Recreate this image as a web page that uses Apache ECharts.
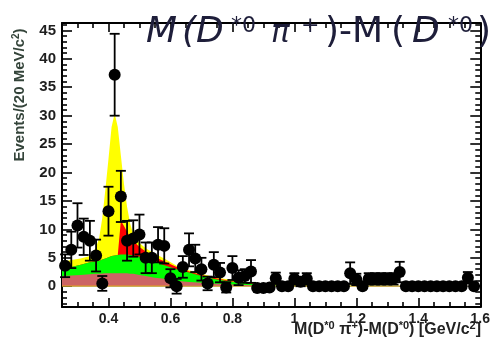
<!DOCTYPE html>
<html><head><meta charset="utf-8">
<script src="https://cdn.jsdelivr.net/npm/echarts@6/dist/echarts.min.js"></script>
<style>html,body{margin:0;padding:0;background:#fff}#c{width:493px;height:342px}</style>
</head><body><div id="c"></div>
<script>
// ---- data ----
const binCenters = [0.26,0.28,0.30,0.32,0.34,0.36,0.38,0.40,0.42,0.44,0.46,0.48,0.50,0.52,0.54,0.56,0.58,0.60,0.62,0.64,
  0.66,0.68,0.70,0.72,0.74,0.76,0.78,0.80,0.82,0.84,0.86,0.88,0.90,0.92,0.94,0.96,0.98,1.00,1.02,1.04,
  1.06,1.08,1.10,1.12,1.14,1.16,1.18,1.20,1.22,1.24,1.26,1.28,1.30,1.32,1.34,1.36,1.38,1.40,1.42,1.44,
  1.46,1.48,1.50,1.52,1.54,1.56,1.58];
const counts = [3.6,6.4,10.7,8.7,8.0,5.4,0.5,13.2,37.2,15.8,8.0,8.4,9.1,5.0,5.0,7.3,7.1,1.4,0.0,3.4,
  6.4,4.9,3.0,0.5,3.8,2.4,-0.2,3.2,1.5,1.8,2.6,-0.3,-0.3,-0.2,1.4,0,0,1.3,0.8,1.3,
  0,0,0,0,0,0,2.3,1.2,0,1.3,1.3,1.3,1.3,1.3,2.5,0,0,0,0,0,
  0,0,0,0,0,1.5,0];
const errors = [2.0,3.2,3.9,3.2,3.5,2.8,1.3,4.3,7.2,4.5,3.5,3.2,3.5,2.7,2.7,3.1,3.1,1.6,1.3,1.9,
  2.9,2.4,2.0,1.2,2.2,1.7,0.9,2.1,1.3,1.2,2.0,0,0,0,1.0,0,0,1.0,0.8,1.0,
  0,0,0,0,0,0,1.9,1.0,0,1.0,1.0,1.0,1.0,1.0,1.8,0,0,0,0,0,
  0,0,0,0,0,1.0,0];

const curveX    = [0.25,0.28,0.31,0.34,0.36,0.37,0.38,0.39,0.40,0.41,0.42,0.43,0.44,0.45,0.46,0.47,0.48,0.50,0.52,0.55,0.58,0.62,0.66,0.70,0.75,0.80,0.85,0.90,1.00,1.20,1.40,1.60];
const yellowTop = [4.3,4.6,4.9,5.3,6.8,8.5,12,17,22.4,28,30.4,28,23,18,14,11,9.2,7.6,6.7,5.7,4.9,3.6,2.8,2.2,1.5,1.1,0.7,0.4,0.2,0.1,0.08,0.05];
const redTop    = [3.0,3.4,3.8,4.2,4.4,4.5,4.7,4.9,5.1,5.3,5.4,5.5,11.5,10.6,9.6,8.7,8.0,6.9,6.1,5.1,4.4,3.4,2.6,2.0,1.35,0.9,0.55,0.35,0.15,0.08,0.06,0.05];
const greenTop  = [3.0,3.4,3.8,4.2,4.4,4.5,4.7,4.9,5.1,5.3,5.4,5.5,5.6,5.6,5.6,5.5,5.4,5.2,4.9,4.3,3.7,3.0,2.4,1.8,1.2,0.8,0.5,0.3,0.15,0.08,0.06,0.05];
const roseTop   = [1.8,1.9,2.0,2.1,2.2,2.2,2.25,2.3,2.3,2.3,2.3,2.3,2.3,2.3,2.3,2.2,2.2,2.0,1.8,1.5,1.3,0.95,0.75,0.6,0.45,0.3,0.2,0.15,0.1,0.06,0.05,0.04];
const orangeTop = [0.12,0.12,0.12,0.12,0.12,0.12,0.12,0.12,0.12,0.12,0.12,0.12,0.12,0.12,0.12,0.12,0.12,0.12,0.12,0.12,0.12,0.1,0.1,0.1,0.1,0.1,0.1,0.1,0.1,0.1,0.1,0.1];

const xMajorTicks = [0.4,0.6,0.8,1.0,1.2,1.4,1.6];
const yMajorTicks = [0,5,10,15,20,25,30,35,40,45];

// ---- layout / style ----
const X_MIN = 0.25, X_MAX = 1.6, Y_MIN = -3.65, Y_MAX = 46.3;
const xMinorTicks = [];
for (let k = 5; k <= 32; k++) { const v = Math.round(k*5)/100; if (!xMajorTicks.some(m => Math.abs(m-v) < 1e-6)) xMinorTicks.push(v); }
const yMinorTicks = [];
for (let v = -3; v <= 46; v++) { if (v % 5 !== 0) yMinorTicks.push(v); }

const LABEL = {fontFamily:'Liberation Sans', fontWeight:'bold', fontSize:14, color:'#1e1e1e'};

function xAx(pos, vals, len, lineShow, labelShow) {
  return {type:'value', min:X_MIN, max:X_MAX, position:pos, gridIndex:0,
    axisLine:{show:lineShow, onZero:false, lineStyle:{color:'#000', width:2}},
    axisTick:{show:true, inside:true, length:len, customValues:vals, lineStyle:{color:'#000', width:1.6}},
    axisLabel:Object.assign({show:labelShow, customValues:vals, margin:5,
      formatter:v => String(Math.round(v*10)/10)}, LABEL),
    splitLine:{show:false}};
}
function yAx(pos, vals, len, lineShow, labelShow) {
  return {type:'value', min:Y_MIN, max:Y_MAX, position:pos, gridIndex:0,
    axisLine:{show:lineShow, onZero:false, lineStyle:{color:'#000', width:2}},
    axisTick:{show:true, inside:true, length:len, customValues:vals, lineStyle:{color:'#000', width:1.6}},
    axisLabel:Object.assign({show:labelShow, customValues:vals, margin:6,
      formatter:v => String(Math.round(v))}, LABEL, {fontSize:15}),
    splitLine:{show:false}};
}

function area(top, color, z) {
  return {type:'line', xAxisIndex:0, yAxisIndex:0, data:curveX.map((x,i)=>[x, top[i]]),
    showSymbol:false, symbol:'none', lineStyle:{width:0}, areaStyle:{color:color, opacity:1},
    z:z, silent:true};
}

const TITLE_COLOR = '#1e1e3a';
function tpiece(txt, x, yMid, size, italic) {
  return {type:'text', x:x, y:yMid, silent:true, z:10,
    style:{text:txt, fontFamily:'DejaVu Sans', fontSize:size, fontStyle:italic ? 'italic' : 'normal',
      fill:TITLE_COLOR, align:'left', verticalAlign:'middle'}};
}
const MAIN_Y = 33, SUP_Y = 26.5, MAIN_S = 36, SUP_S = 22;

const chart = echarts.init(document.getElementById('c'), null, {renderer:'canvas'});
chart.setOption({
  animation:false,
  backgroundColor:'#fff',
  grid:{left:62, right:11, top:23, bottom:35},
  xAxis:[xAx('bottom', xMajorTicks, 9, true, true), xAx('bottom', xMinorTicks, 5, false, false),
         xAx('top', xMajorTicks, 9, true, false), xAx('top', xMinorTicks, 5, false, false)],
  yAxis:[yAx('left', yMajorTicks, 10, true, true), yAx('left', yMinorTicks, 5, false, false),
         yAx('right', yMajorTicks, 10, true, false), yAx('right', yMinorTicks, 5, false, false)],
  series:[
    area(yellowTop, '#ffff00', 2),
    area(redTop, '#ff0000', 2),
    area(greenTop, '#00ff00', 2),
    area(roseTop, '#cc6464', 2),
    area(orangeTop, '#e8a020', 2),
    {type:'custom', xAxisIndex:0, yAxisIndex:0, z:3, silent:true,
     data:binCenters.map((x,i)=>[x, counts[i]-errors[i], counts[i]+errors[i]]),
     encode:{x:0, y:[1,2]},
     renderItem:function(params, api){
       const x = api.value(0), lo = api.value(1), hi = api.value(2);
       if (!(hi - lo > 0)) return {type:'group', children:[]};
       const p1 = api.coord([x, lo]), p2 = api.coord([x, hi]), w = 5;
       const st = {stroke:'#000', lineWidth:1.8};
       return {type:'group', children:[
         {type:'line', shape:{x1:p1[0], y1:p1[1], x2:p2[0], y2:p2[1]}, style:st},
         {type:'line', shape:{x1:p1[0]-w, y1:p1[1], x2:p1[0]+w, y2:p1[1]}, style:st},
         {type:'line', shape:{x1:p2[0]-w, y1:p2[1], x2:p2[0]+w, y2:p2[1]}, style:st}
       ]};
     }},
    {type:'scatter', xAxisIndex:0, yAxisIndex:0, z:4, silent:true,
     data:binCenters.map((x,i)=>[x, counts[i]]), symbol:'circle', symbolSize:12,
     itemStyle:{color:'#000', opacity:1}}
  ],
  graphic:[
    tpiece('M', 146, MAIN_Y, MAIN_S, true),
    tpiece('(', 182, MAIN_Y, MAIN_S, true),
    tpiece('D', 196, MAIN_Y, MAIN_S, true),
    tpiece('*0', 231, SUP_Y, SUP_S, false),
    tpiece('\u03c0', 271, MAIN_Y + 1, 31, true),
    tpiece('+', 301, SUP_Y, SUP_S, false),
    tpiece(')', 325, MAIN_Y, MAIN_S, false),
    tpiece('-', 339, MAIN_Y, MAIN_S, false),
    tpiece('M', 352, MAIN_Y, MAIN_S, false),
    tpiece('(', 391, MAIN_Y, MAIN_S, false),
    tpiece('D', 412, MAIN_Y, MAIN_S, true),
    tpiece('*0', 448, SUP_Y, SUP_S, false),
    tpiece(')', 477, MAIN_Y, MAIN_S, false),
    {type:'text', right:12, top:320, silent:true, z:10,
     style:{text:'{b|M(D}{s|*0}{b| \u03c0}{s|+}{b|)-M(D}{s|*0}{b|) [GeV/c}{s|2}{b|]}',
       rich:{
         b:{fontFamily:'Liberation Sans', fontWeight:'bold', fontSize:16, fill:'#222'},
         s:{fontFamily:'Liberation Sans', fontWeight:'bold', fontSize:11, fill:'#222', padding:[0,0,8,0]}
       }}},
    {type:'text', x:20, y:95, rotation:Math.PI/2, silent:true, z:10,
     style:{text:'{b|Events/(20 MeV/c}{s|2}{b|)}', align:'center', verticalAlign:'middle',
       rich:{
         b:{fontFamily:'Liberation Sans', fontWeight:'bold', fontSize:15, fill:'#34443a'},
         s:{fontFamily:'Liberation Sans', fontWeight:'bold', fontSize:10, fill:'#34443a', padding:[0,0,7,0]}
       }}}
  ]
});
</script>
</body></html>
